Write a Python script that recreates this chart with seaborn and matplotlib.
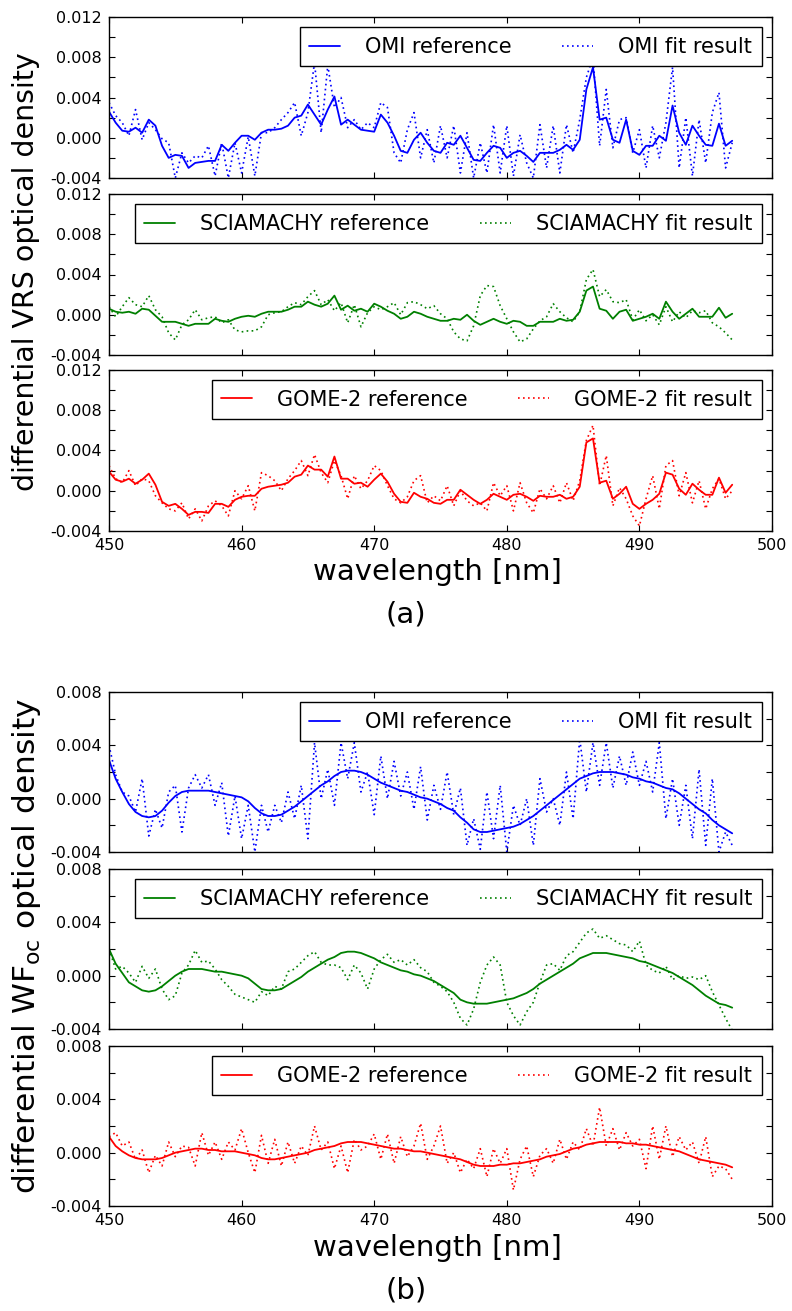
import numpy as np
import matplotlib
matplotlib.use("Agg")
import matplotlib.pyplot as plt
import seaborn as sns
from matplotlib.ticker import MultipleLocator, FormatStrFormatter

# ---------------- data ----------------
WAVELENGTH = np.arange(450.0, 497.25, 0.5)

OMI_A_REF = [0.0026, 0.0015, 0.0007, 0.0006, 0.0010, 0.0005, 0.0018, 0.0012, -0.0008, -0.0020,
             -0.0017, -0.0018, -0.0030, -0.0025, -0.0024, -0.0023, -0.0023, -0.0007, -0.0013, -0.0005,
             0.0002, 0.0002, -0.0002, 0.0005, 0.0008, 0.0008, 0.0009, 0.0012, 0.0020, 0.0022,
             0.0033, 0.0023, 0.0013, 0.0028, 0.0041, 0.0013, 0.0018, 0.0013, 0.0008, 0.0007,
             0.0006, 0.0023, 0.0015, 0.0002, -0.0013, -0.0015, -0.0002, 0.0005, -0.0005, -0.0013,
             -0.0015, -0.0005, -0.0007, 0.0002, -0.0010, -0.0022, -0.0023, -0.0015, -0.0008, -0.0010,
             -0.0020, -0.0015, -0.0013, -0.0018, -0.0024, -0.0015, -0.0015, -0.0015, -0.0012, -0.0007,
             -0.0012, -0.0002, 0.0048, 0.0070, 0.0018, 0.0020, -0.0002, -0.0005, 0.0018, -0.0013,
             -0.0017, -0.0008, -0.0008, 0.0002, -0.0003, 0.0032, 0.0005, -0.0007, 0.0012, 0.0002,
             -0.0007, -0.0008, 0.0014, -0.0008, -0.0003]
OMI_A_FIT = [0.0035, 0.0022, 0.0015, 0.0002, 0.0028, -0.0002, 0.0015, 0.0008, -0.0001, -0.0005,
             -0.0040, -0.0015, -0.0025, -0.0018, -0.0020, -0.0008, -0.0038, -0.0005, -0.0040, -0.0005,
             -0.0035, 0.0001, -0.0038, 0.0005, 0.0005, 0.0010, 0.0018, 0.0025, 0.0035, 0.0002,
             0.0025, 0.0075, 0.0005, 0.0072, 0.0030, 0.0040, 0.0010, 0.0018, 0.0008, 0.0015,
             0.0010, 0.0035, 0.0030, -0.0015, -0.0025, 0.0008, 0.0025, -0.0020, 0.0008, -0.0025,
             0.0012, -0.0020, 0.0012, -0.0035, 0.0005, -0.0040, -0.0005, -0.0035, 0.0013, -0.0035,
             0.0012, -0.0038, 0.0003, -0.0025, -0.0040, 0.0013, -0.0030, 0.0012, -0.0035, 0.0013,
             -0.0015, 0.0018, 0.0060, 0.0080, -0.0008, 0.0048, -0.0010, 0.0018, 0.0020, -0.0015,
             0.0008, -0.0030, 0.0012, -0.0020, 0.0015, 0.0070, -0.0030, 0.0020, -0.0038, 0.0018,
             -0.0025, 0.0025, 0.0045, -0.0030, -0.0005]

SCI_A_REF = [0.0006, 0.0003, 0.0002, 0.0003, 0.0001, 0.0006, 0.0005, -0.0001, -0.0007, -0.0007,
             -0.0007, -0.0009, -0.0011, -0.0009, -0.0009, -0.0009, -0.0004, -0.0006, -0.0007, -0.0004,
             -0.0002, -0.0001, -0.0002, 0.0001, 0.0003, 0.0003, 0.0003, 0.0005, 0.0008, 0.0008,
             0.0013, 0.0010, 0.0008, 0.0011, 0.0019, 0.0005, 0.0009, 0.0004, 0.0006, 0.0003,
             0.0011, 0.0008, 0.0004, 0.0001, -0.0004, -0.0002, 0.0003, 0.0001, -0.0002, -0.0004,
             -0.0006, -0.0006, -0.0004, -0.0005, 0.0000, -0.0006, -0.0010, -0.0007, -0.0004, -0.0007,
             -0.0009, -0.0006, -0.0007, -0.0011, -0.0011, -0.0007, -0.0007, -0.0007, -0.0004, -0.0006,
             -0.0005, 0.0003, 0.0024, 0.0028, 0.0006, 0.0004, -0.0004, 0.0003, 0.0005, -0.0006,
             -0.0004, -0.0002, 0.0001, -0.0004, 0.0013, 0.0003, -0.0004, 0.0001, 0.0006, -0.0002,
             -0.0002, -0.0002, 0.0007, -0.0003, 0.0001]
SCI_A_FIT = [0.0008, -0.0002, 0.0008, 0.0017, 0.0010, 0.0008, 0.0019, 0.0005, -0.0002, -0.0018,
             -0.0025, -0.0010, -0.0005, 0.0005, -0.0005, -0.0003, -0.0002, -0.0008, -0.0005, -0.0015,
             -0.0017, -0.0016, -0.0016, -0.0012, 0.0000, 0.0002, 0.0003, 0.0008, 0.0012, 0.0010,
             0.0018, 0.0024, 0.0010, 0.0015, 0.0004, 0.0012, -0.0008, 0.0010, -0.0012, 0.0002,
             0.0008, 0.0005, 0.0008, 0.0012, 0.0000, 0.0012, 0.0013, 0.0010, 0.0006, 0.0009,
             0.0001, -0.0004, -0.0017, -0.0024, -0.0026, -0.0011, 0.0019, 0.0029, 0.0028, 0.0009,
             -0.0004, -0.0017, -0.0027, -0.0024, -0.0014, -0.0006, -0.0002, 0.0011, 0.0003, -0.0003,
             -0.0007, 0.0003, 0.0035, 0.0045, 0.0018, 0.0025, 0.0013, 0.0012, 0.0015, -0.0005,
             0.0005, -0.0006, 0.0000, -0.0010, 0.0008, -0.0007, 0.0003, -0.0003, 0.0004, 0.0002,
             0.0004, -0.0008, -0.0012, -0.0018, -0.0025]

GOME_A_REF = [0.0019, 0.0011, 0.0009, 0.0012, 0.0007, 0.0011, 0.0017, 0.0006, -0.0011, -0.0015,
              -0.0013, -0.0018, -0.0024, -0.0021, -0.0021, -0.0022, -0.0013, -0.0013, -0.0016, -0.0009,
              -0.0006, -0.0005, -0.0005, 0.0002, 0.0004, 0.0005, 0.0006, 0.0008, 0.0014, 0.0016,
              0.0025, 0.0021, 0.0021, 0.0014, 0.0034, 0.0012, 0.0012, 0.0007, 0.0008, 0.0004,
              0.0011, 0.0017, 0.0009, -0.0003, -0.0011, -0.0012, -0.0002, -0.0006, -0.0008, -0.0012,
              -0.0013, -0.0009, -0.0009, 0.0001, -0.0004, -0.0009, -0.0013, -0.0009, -0.0003, -0.0006,
              -0.0009, -0.0004, -0.0003, -0.0006, -0.0010, -0.0005, -0.0006, -0.0006, -0.0004, -0.0008,
              -0.0006, 0.0004, 0.0048, 0.0052, 0.0008, 0.0010, -0.0008, -0.0003, 0.0004, -0.0013,
              -0.0018, -0.0013, -0.0009, -0.0003, 0.0018, 0.0016, 0.0002, -0.0004, 0.0007, 0.0001,
              -0.0004, -0.0004, 0.0013, -0.0002, 0.0006]
GOME_A_FIT = [0.0025, 0.0012, 0.0008, 0.0020, 0.0005, 0.0012, 0.0010, -0.0005, -0.0012, -0.0018,
              -0.0020, -0.0012, -0.0028, -0.0018, -0.0030, -0.0015, -0.0010, -0.0015, -0.0025, 0.0000,
              -0.0008, 0.0005, -0.0020, 0.0018, 0.0015, 0.0010, 0.0000, 0.0012, 0.0020, 0.0030,
              0.0015, 0.0036, 0.0018, 0.0008, 0.0030, 0.0015, -0.0008, 0.0015, 0.0002, 0.0010,
              0.0025, 0.0020, 0.0005, -0.0008, -0.0012, -0.0006, 0.0010, 0.0015, -0.0012, -0.0005,
              -0.0010, 0.0005, -0.0015, 0.0000, -0.0010, -0.0015, -0.0012, -0.0020, 0.0008, -0.0005,
              0.0005, -0.0020, 0.0008, -0.0012, -0.0022, 0.0002, -0.0008, 0.0005, -0.0012, 0.0008,
              -0.0010, 0.0010, 0.0050, 0.0065, 0.0005, 0.0035, -0.0015, 0.0003, -0.0008, -0.0025,
              -0.0035, -0.0008, 0.0015, -0.0018, 0.0025, 0.0030, -0.0005, 0.0018, -0.0012, 0.0010,
              -0.0018, 0.0002, 0.0012, -0.0008, 0.0000]

OMI_B_REF = [0.0029, 0.0015, 0.0005, -0.0004, -0.0010, -0.0013, -0.0014, -0.0013, -0.0009, -0.0003,
             0.0002, 0.0005, 0.0006, 0.0006, 0.0006, 0.0006, 0.0005, 0.0004, 0.0003, 0.0002,
             0.0001, -0.0002, -0.0007, -0.0011, -0.0013, -0.0013, -0.0012, -0.0009, -0.0006, -0.0002,
             0.0002, 0.0006, 0.0010, 0.0013, 0.0017, 0.0020, 0.0021, 0.0021, 0.0020, 0.0018,
             0.0015, 0.0012, 0.0010, 0.0008, 0.0006, 0.0005, 0.0003, 0.0001, 0.0000, -0.0002,
             -0.0004, -0.0007, -0.0009, -0.0014, -0.0018, -0.0023, -0.0025, -0.0025, -0.0024, -0.0023,
             -0.0022, -0.0021, -0.0019, -0.0016, -0.0013, -0.0009, -0.0005, -0.0001, 0.0003, 0.0007,
             0.0011, 0.0015, 0.0017, 0.0019, 0.0020, 0.0020, 0.0020, 0.0019, 0.0018, 0.0016,
             0.0015, 0.0013, 0.0012, 0.0010, 0.0008, 0.0007, 0.0004, 0.0000, -0.0004, -0.0008,
             -0.0011, -0.0016, -0.0020, -0.0023, -0.0026]
OMI_B_FIT = [0.0040, 0.0018, 0.0005, 0.0002, -0.0010, 0.0015, -0.0028, -0.0008, -0.0022, 0.0005,
             0.0010, -0.0025, 0.0008, 0.0018, 0.0008, 0.0018, -0.0005, 0.0012, -0.0028, 0.0002,
             -0.0030, -0.0005, -0.0040, -0.0005, -0.0025, -0.0005, -0.0018, 0.0005, -0.0015, 0.0010,
             -0.0030, 0.0042, 0.0000, 0.0022, -0.0005, 0.0042, 0.0015, 0.0042, 0.0005, 0.0020,
             -0.0012, 0.0032, 0.0000, 0.0028, 0.0002, 0.0020, -0.0008, 0.0024, -0.0016, 0.0010,
             -0.0008, 0.0020, -0.0012, 0.0008, -0.0035, -0.0015, -0.0038, 0.0005, -0.0030, 0.0010,
             -0.0040, -0.0005, -0.0020, 0.0000, -0.0035, 0.0015, -0.0010, 0.0000, -0.0020, 0.0020,
             -0.0015, 0.0045, 0.0005, 0.0042, 0.0010, 0.0042, 0.0008, 0.0032, 0.0010, 0.0035,
             0.0010, 0.0028, 0.0005, 0.0042, -0.0015, 0.0015, -0.0020, 0.0010, -0.0030, 0.0022,
             -0.0035, 0.0015, -0.0040, -0.0025, -0.0035]

SCI_B_REF = [0.0020, 0.0009, 0.0002, -0.0005, -0.0008, -0.0011, -0.0012, -0.0011, -0.0008, -0.0004,
             0.0000, 0.0003, 0.0005, 0.0005, 0.0005, 0.0004, 0.0003, 0.0003, 0.0002, 0.0001,
             0.0000, -0.0002, -0.0006, -0.0010, -0.0011, -0.0011, -0.0010, -0.0007, -0.0004, -0.0001,
             0.0003, 0.0006, 0.0009, 0.0012, 0.0014, 0.0017, 0.0018, 0.0018, 0.0017, 0.0015,
             0.0013, 0.0010, 0.0008, 0.0006, 0.0004, 0.0003, 0.0001, 0.0000, -0.0002, -0.0004,
             -0.0007, -0.0010, -0.0013, -0.0018, -0.0020, -0.0021, -0.0021, -0.0021, -0.0020, -0.0019,
             -0.0018, -0.0017, -0.0015, -0.0013, -0.0010, -0.0006, -0.0003, 0.0000, 0.0003, 0.0006,
             0.0009, 0.0013, 0.0015, 0.0017, 0.0017, 0.0017, 0.0016, 0.0015, 0.0014, 0.0013,
             0.0011, 0.0010, 0.0008, 0.0006, 0.0004, 0.0002, -0.0001, -0.0004, -0.0007, -0.0011,
             -0.0015, -0.0018, -0.0021, -0.0022, -0.0024]
SCI_B_FIT = [0.0020, 0.0005, 0.0007, 0.0002, -0.0005, 0.0007, -0.0002, 0.0005, -0.0010, -0.0018,
             -0.0015, 0.0002, 0.0008, 0.0019, 0.0010, 0.0011, 0.0005, -0.0003, -0.0008, -0.0014,
             -0.0016, -0.0018, -0.0020, -0.0012, -0.0015, -0.0008, -0.0010, 0.0003, 0.0005, 0.0010,
             0.0015, 0.0018, 0.0010, 0.0008, 0.0008, 0.0006, -0.0003, 0.0008, 0.0002, -0.0010,
             0.0005, 0.0012, 0.0016, 0.0010, 0.0012, 0.0008, 0.0012, 0.0006, 0.0003, -0.0005,
             -0.0008, -0.0012, -0.0020, -0.0032, -0.0037, -0.0025, -0.0005, 0.0008, 0.0014, 0.0008,
             -0.0020, -0.0030, -0.0037, -0.0027, -0.0020, -0.0005, 0.0008, 0.0009, 0.0004, 0.0015,
             0.0018, 0.0025, 0.0032, 0.0035, 0.0028, 0.0030, 0.0027, 0.0024, 0.0023, 0.0018,
             0.0026, 0.0008, 0.0004, 0.0002, 0.0007, -0.0003, 0.0000, -0.0002, -0.0001, -0.0003,
             0.0000, -0.0012, -0.0022, -0.0032, -0.0041]

GOME_B_REF = [0.0012, 0.0005, 0.0001, -0.0002, -0.0004, -0.0005, -0.0005, -0.0005, -0.0004, -0.0002,
              0.0000, 0.0001, 0.0002, 0.0003, 0.0003, 0.0002, 0.0002, 0.0001, 0.0001, 0.0001,
              0.0000, -0.0001, -0.0002, -0.0004, -0.0005, -0.0005, -0.0004, -0.0003, -0.0002, -0.0001,
              0.0000, 0.0002, 0.0003, 0.0004, 0.0005, 0.0007, 0.0008, 0.0008, 0.0008, 0.0007,
              0.0006, 0.0005, 0.0004, 0.0003, 0.0003, 0.0002, 0.0001, 0.0001, 0.0000, -0.0001,
              -0.0002, -0.0003, -0.0004, -0.0005, -0.0007, -0.0009, -0.0010, -0.0010, -0.0010, -0.0009,
              -0.0009, -0.0008, -0.0008, -0.0007, -0.0006, -0.0005, -0.0003, -0.0002, -0.0001, 0.0001,
              0.0003, 0.0004, 0.0006, 0.0007, 0.0008, 0.0008, 0.0008, 0.0008, 0.0007, 0.0007,
              0.0006, 0.0006, 0.0005, 0.0004, 0.0003, 0.0002, 0.0001, -0.0001, -0.0003, -0.0005,
              -0.0006, -0.0007, -0.0008, -0.0009, -0.0011]
GOME_B_FIT = [0.0012, 0.0015, 0.0005, 0.0008, -0.0005, 0.0002, -0.0015, -0.0002, -0.0010, 0.0008,
              -0.0003, 0.0005, 0.0004, -0.0010, 0.0015, -0.0002, 0.0008, -0.0005, 0.0008, 0.0002,
              0.0018, 0.0000, -0.0015, 0.0013, -0.0008, 0.0010, -0.0010, 0.0008, -0.0008, 0.0005,
              -0.0002, 0.0020, 0.0002, 0.0008, -0.0012, 0.0005, -0.0015, 0.0010, 0.0002, 0.0005,
              0.0014, -0.0005, 0.0014, -0.0008, 0.0012, -0.0003, 0.0005, 0.0022, -0.0005, 0.0005,
              0.0020, -0.0008, 0.0000, -0.0015, -0.0005, -0.0012, 0.0003, -0.0018, 0.0003, -0.0008,
              0.0003, -0.0028, -0.0005, 0.0005, -0.0018, -0.0002, 0.0003, -0.0008, 0.0010, -0.0005,
              0.0008, 0.0002, 0.0018, 0.0005, 0.0034, 0.0005, 0.0018, 0.0002, 0.0015, 0.0005,
              0.0010, -0.0012, 0.0020, -0.0005, 0.0020, -0.0003, 0.0012, 0.0002, 0.0008, -0.0008,
              0.0012, -0.0018, -0.0010, -0.0012, -0.0020]

INSTRUMENTS = ["OMI", "SCIAMACHY", "GOME-2"]
COLORS = ["#0000ff", "#008000", "#ff0000"]
PANEL_A = [(OMI_A_REF, OMI_A_FIT), (SCI_A_REF, SCI_A_FIT), (GOME_A_REF, GOME_A_FIT)]
PANEL_B = [(OMI_B_REF, OMI_B_FIT), (SCI_B_REF, SCI_B_FIT), (GOME_B_REF, GOME_B_FIT)]
X_TICKS = [450, 460, 470, 480, 490, 500]

# ---------------- style ----------------
sns.set_style("white")
plt.rcParams.update({
    "font.family": ["DejaVu Sans"],
    "text.color": "black",
    "axes.labelcolor": "black",
    "axes.unicode_minus": False,
    "axes.edgecolor": "black",
    "axes.linewidth": 1.0,
    "xtick.direction": "in", "ytick.direction": "in",
    "xtick.top": True, "ytick.right": True,
    "xtick.bottom": True, "ytick.left": True,
    "xtick.major.size": 4, "ytick.major.size": 4,
    "ytick.minor.size": 4, "xtick.minor.size": 4,
    "xtick.major.width": 0.8, "ytick.major.width": 0.8, "ytick.minor.width": 0.8,
    "xtick.color": "black", "ytick.color": "black",
    "xtick.labelcolor": "black", "ytick.labelcolor": "black",
    "xtick.labelsize": 11.5, "ytick.labelsize": 11.5,
    "xtick.major.pad": 5, "ytick.major.pad": 5,
    "legend.labelcolor": "black",
})

W, H = 792, 1311
fig = plt.figure(figsize=(W / 100, H / 100), dpi=100)

LEFT, RIGHT = 109, 772
ROWS_A = [(17, 178), (194, 355), (370, 531)]
ROWS_B = [(692, 852), (869, 1029), (1046, 1206)]


def make_ax(top, bottom):
    return fig.add_axes([LEFT / W, 1 - bottom / H, (RIGHT - LEFT) / W, (bottom - top) / H])


def draw_panel(ax, ref, fit, name, color, ymin, ymax, show_x):
    sns.lineplot(x=WAVELENGTH, y=ref, ax=ax, color=color, linewidth=1.3,
                 label=f"{name} reference", sort=False, estimator=None)
    sns.lineplot(x=WAVELENGTH, y=fit, ax=ax, color=color, linewidth=1.2,
                 linestyle=(0, (1, 2)), label=f"{name} fit result", sort=False, estimator=None)
    ax.set_xlim(450, 500)
    ax.set_ylim(ymin, ymax)
    ax.set_xticks(X_TICKS)
    ax.yaxis.set_major_locator(MultipleLocator(0.004))
    ax.yaxis.set_minor_locator(MultipleLocator(0.002))
    ax.yaxis.set_major_formatter(FormatStrFormatter("%.3f"))
    ax.tick_params(which="both", direction="in", top=True, right=True,
                   color="black", labelcolor="black")
    if not show_x:
        ax.tick_params(axis="x", labelbottom=False)
    ax.set_xlabel("")
    ax.set_ylabel("")
    for s in ax.spines.values():
        s.set_visible(True)
        s.set_color("black")
    leg = ax.legend(loc="upper right", ncol=2, fontsize=15, frameon=True, fancybox=False,
                    edgecolor="black", framealpha=1, handlelength=1.5, handletextpad=1.2,
                    columnspacing=2.4, borderpad=0.45, borderaxespad=0.5)
    leg.get_frame().set_linewidth(1.0)
    for t in leg.get_texts():
        t.set_color("black")


for i, ((top, bot), (ref, fit)) in enumerate(zip(ROWS_A, PANEL_A)):
    ax = make_ax(top, bot)
    draw_panel(ax, ref, fit, INSTRUMENTS[i], COLORS[i], -0.004, 0.012, i == 2)

for i, ((top, bot), (ref, fit)) in enumerate(zip(ROWS_B, PANEL_B)):
    ax = make_ax(top, bot)
    draw_panel(ax, ref, fit, INSTRUMENTS[i], COLORS[i], -0.004, 0.008, i == 2)

fig.text(437 / W, 1 - 572 / H, "wavelength [nm]", ha="center", va="center", fontsize=21, color="black")
fig.text(406 / W, 1 - 615 / H, "(a)", ha="center", va="center", fontsize=21, color="black")
fig.text(437 / W, 1 - 1248 / H, "wavelength [nm]", ha="center", va="center", fontsize=21, color="black")
fig.text(406 / W, 1 - 1291 / H, "(b)", ha="center", va="center", fontsize=21, color="black")
fig.text(26 / W, 1 - 272 / H, "differential VRS optical density", rotation=90,
         ha="center", va="center", fontsize=20.5, color="black")
fig.text(27 / W, 1 - 946 / H, r"differential WF$_{\mathregular{oc}}$ optical density", rotation=90,
         ha="center", va="center", fontsize=22.5, color="black")

fig.savefig("out.png", dpi=100, facecolor="white")
